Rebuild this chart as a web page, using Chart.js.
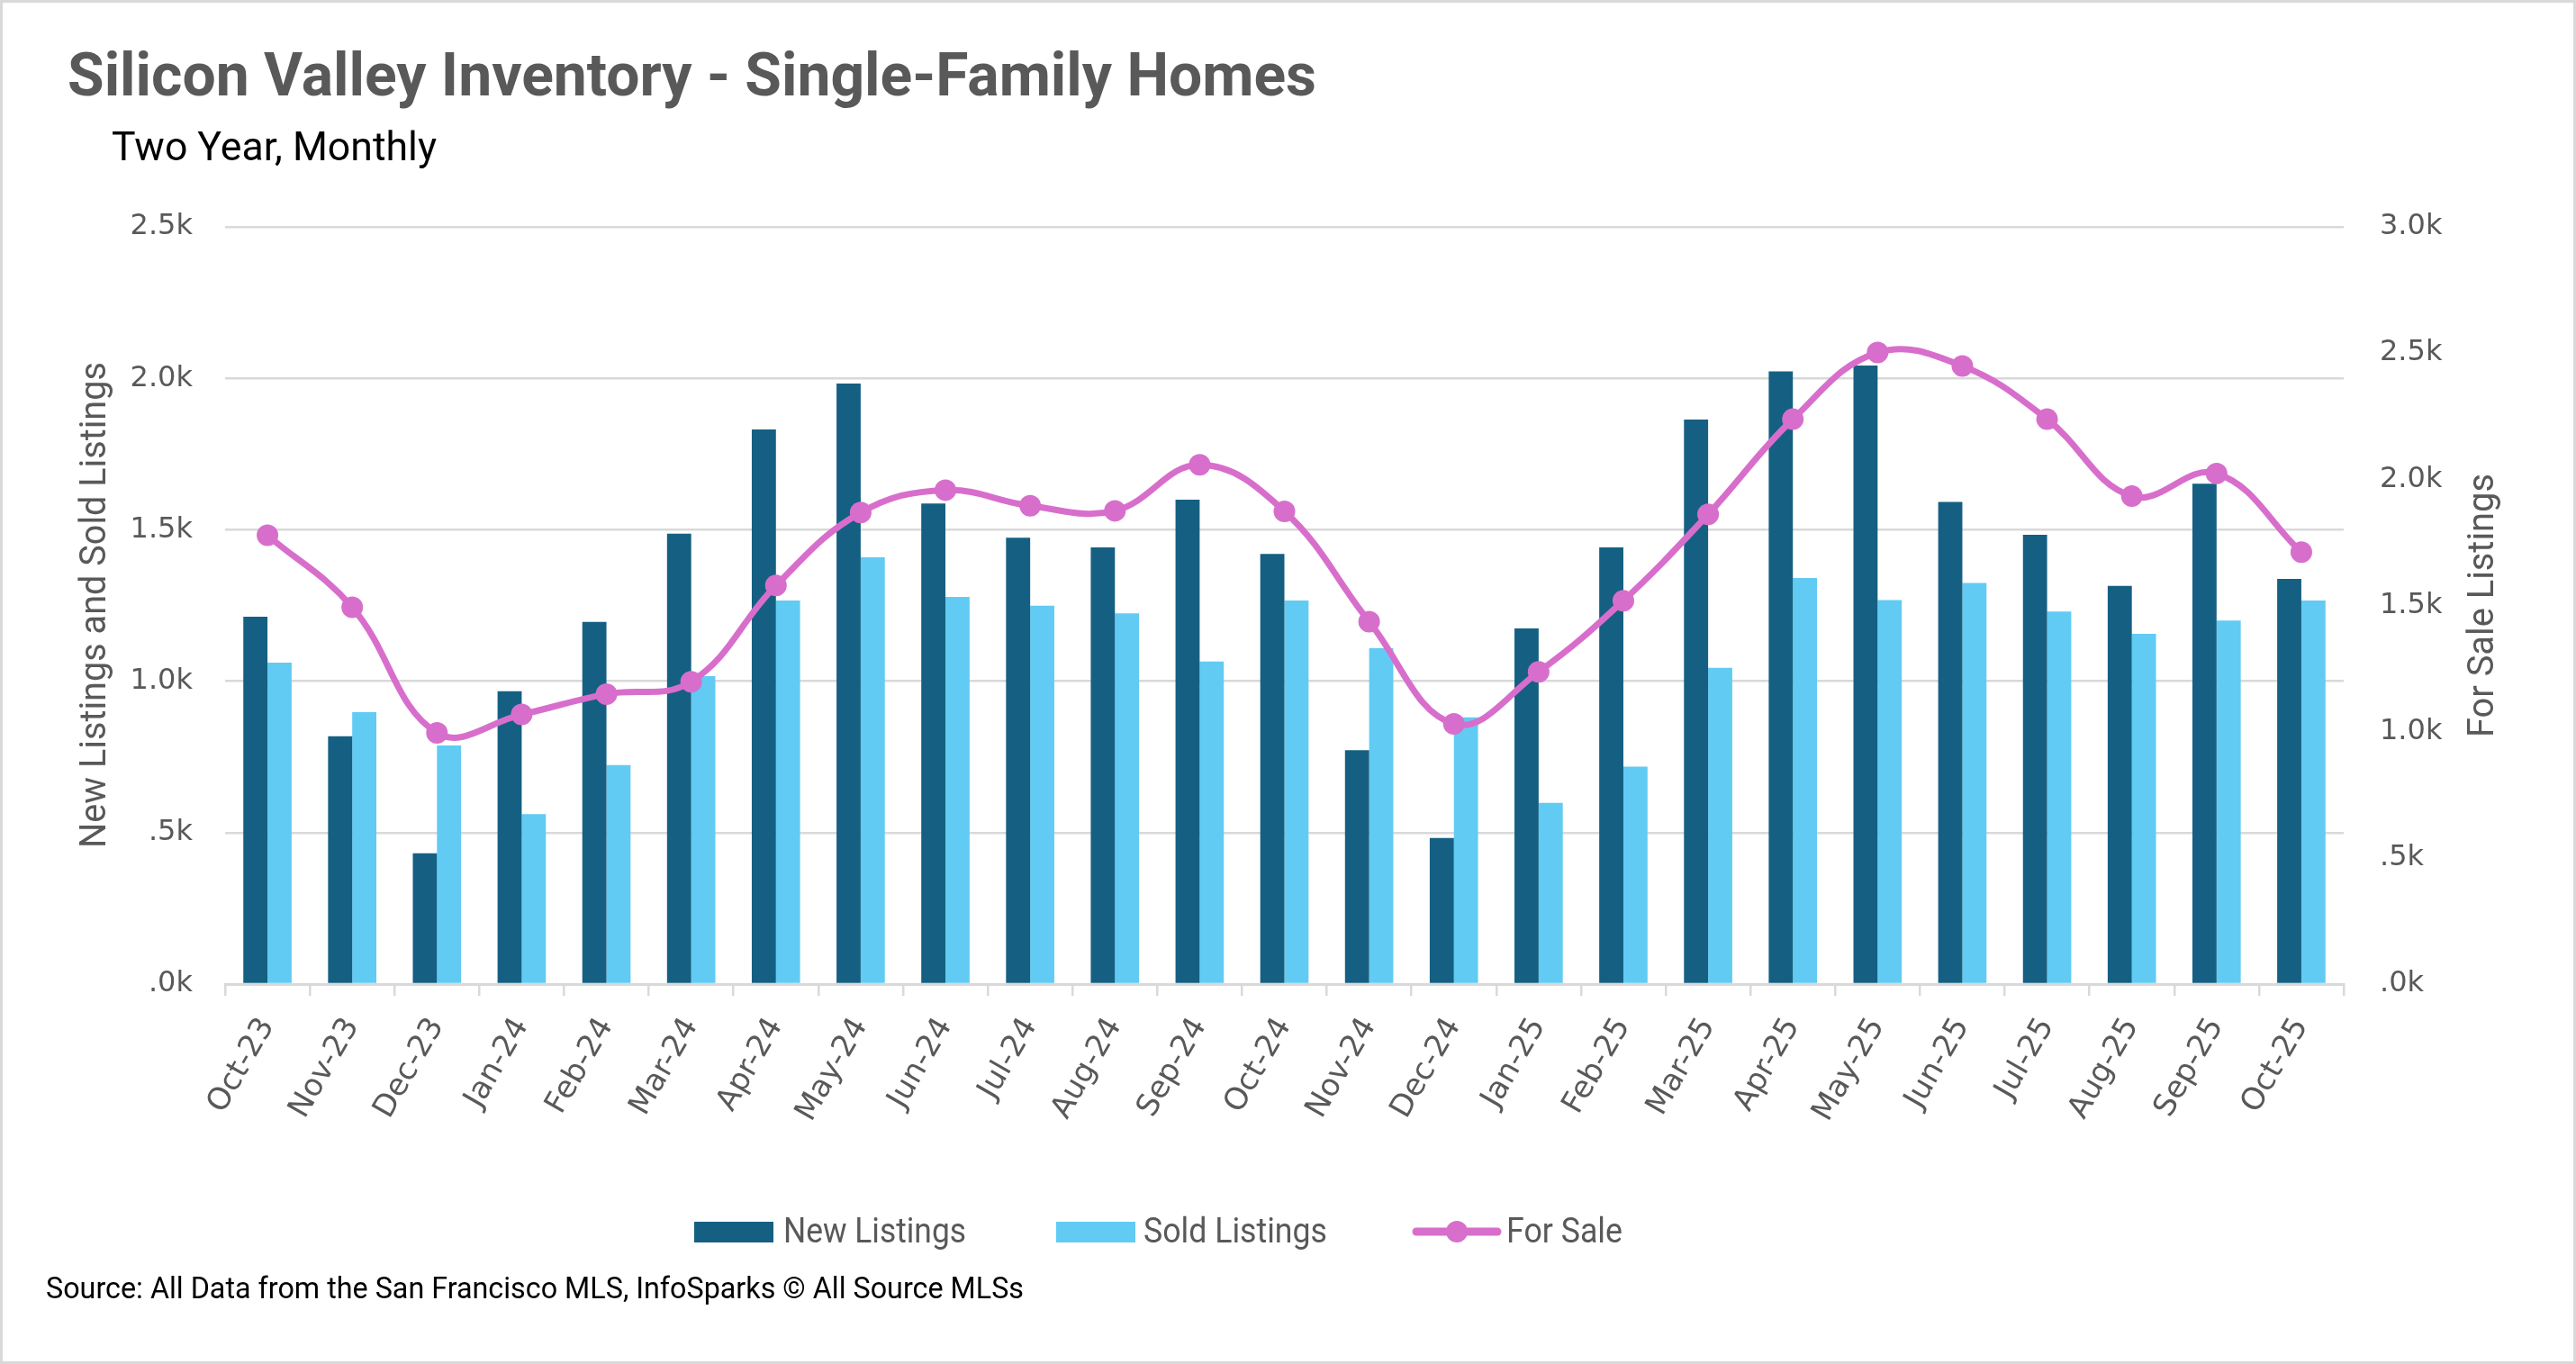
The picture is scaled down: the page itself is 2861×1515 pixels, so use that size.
<!DOCTYPE html>
<html>
<head>
<meta charset="utf-8">
<title>Silicon Valley Inventory - Single-Family Homes</title>
<script src="https://cdn.jsdelivr.net/npm/chart.js@4.4.1/dist/chart.umd.min.js"></script>
<style>
  html, body { margin: 0; padding: 0; background: #ffffff; }
  #wrap { width: 2861px; height: 1515px; position: relative; }
</style>
</head>
<body>
<div id="wrap"><canvas id="inventoryChart" width="2861" height="1515"></canvas></div>
<script>
  // Monthly values
  const months = ['Oct-23', 'Nov-23', 'Dec-23', 'Jan-24', 'Feb-24', 'Mar-24', 'Apr-24', 'May-24',
    'Jun-24', 'Jul-24', 'Aug-24', 'Sep-24', 'Oct-24', 'Nov-24', 'Dec-24', 'Jan-25', 'Feb-25',
    'Mar-25', 'Apr-25', 'May-25', 'Jun-25', 'Jul-25', 'Aug-25', 'Sep-25', 'Oct-25'];
  const newListings = [1213, 818, 432, 967, 1196, 1487, 1831, 1983, 1587, 1474, 1442, 1599, 1420,
    772, 482, 1174, 1442, 1864, 2023, 2042, 1592, 1483, 1315, 1652, 1338];
  const soldListings = [1061, 898, 788, 561, 723, 1017, 1266, 1409, 1278, 1249, 1224, 1065, 1266,
    1109, 881, 598, 718, 1044, 1341, 1268, 1324, 1230, 1156, 1200, 1266];
  const forSale = [1778, 1493, 995, 1068, 1149, 1198, 1579, 1868, 1957, 1895, 1875, 2057, 1873,
    1436, 1031, 1237, 1519, 1861, 2238, 2502, 2449, 2238, 1933, 2023, 1711];

  const leftTickLabels = ['.0k', '.5k', '1.0k', '1.5k', '2.0k', '2.5k'];
  const rightTickLabels = ['.0k', '.5k', '1.0k', '1.5k', '2.0k', '2.5k', '3.0k'];

  const COLORS = {
    NEW: '#156082',
    SOLD: '#61CBF3',
    FOR_SALE: '#D86ECC',
    GRID: '#D9D9D9',
    TEXT: '#595959'
  };
  const TEXT_FONT = 'Roboto, "Liberation Sans", sans-serif';
  const TICK_FONT = '"DejaVu Sans", Verdana, sans-serif';

  // Draws text squeezed/stretched to a given width (the original uses Aptos)
  function fitText(ctx, text, x, y, width, font, color, angle) {
    ctx.save();
    ctx.font = font;
    ctx.fillStyle = color;
    ctx.textAlign = 'left';
    ctx.textBaseline = 'alphabetic';
    const w = ctx.measureText(text).width;
    ctx.translate(x, y);
    if (angle) ctx.rotate(angle);
    ctx.scale(width / w, 1);
    ctx.fillText(text, 0, 0);
    ctx.restore();
  }

  const decorations = {
    id: 'decorations',
    afterDraw(chart) {
      const ctx = chart.ctx;
      const ds = chart.data.datasets;

      // outer frame
      ctx.save();
      ctx.strokeStyle = COLORS.GRID;
      ctx.lineWidth = 3;
      ctx.strokeRect(1.5, 1.5, chart.width - 3, chart.height - 3);
      ctx.restore();

      fitText(ctx, 'Silicon Valley Inventory - Single-Family Homes', 75, 106, 1387,
        'bold 67px ' + TEXT_FONT, COLORS.TEXT);
      fitText(ctx, 'Two Year, Monthly', 124, 178, 361, '45px ' + TEXT_FONT, '#000000');

      // axis titles, both reading bottom to top
      fitText(ctx, 'New Listings and Sold Listings', 117, 942, 540,
        '40px ' + TEXT_FONT, COLORS.TEXT, -Math.PI / 2);
      fitText(ctx, 'For Sale Listings', 2769, 819, 293,
        '41px ' + TEXT_FONT, COLORS.TEXT, -Math.PI / 2);

      // legend
      ctx.save();
      ctx.fillStyle = ds[0].backgroundColor;
      ctx.fillRect(771, 1357, 88, 23);
      ctx.fillStyle = ds[1].backgroundColor;
      ctx.fillRect(1173, 1357, 88, 23);
      ctx.strokeStyle = ds[2].borderColor;
      ctx.lineWidth = 9;
      ctx.lineCap = 'round';
      ctx.beginPath();
      ctx.moveTo(1573, 1368);
      ctx.lineTo(1663, 1368);
      ctx.stroke();
      ctx.fillStyle = ds[2].borderColor;
      ctx.beginPath();
      ctx.arc(1618, 1368, 12, 0, Math.PI * 2);
      ctx.fill();
      ctx.restore();
      fitText(ctx, ds[0].label, 870, 1380, 203, '38px ' + TEXT_FONT, COLORS.TEXT);
      fitText(ctx, ds[1].label, 1270, 1380, 204, '38px ' + TEXT_FONT, COLORS.TEXT);
      fitText(ctx, ds[2].label, 1673, 1380, 129, '38px ' + TEXT_FONT, COLORS.TEXT);

      fitText(ctx, 'Source: All Data from the San Francisco MLS, InfoSparks \u00A9 All Source MLSs',
        51, 1442, 1086, '33px ' + TEXT_FONT, '#000000');
    }
  };

  new Chart(document.getElementById('inventoryChart').getContext('2d'), {
    type: 'bar',
    data: {
      labels: months,
      datasets: [
        {
          label: 'New Listings',
          data: newListings,
          backgroundColor: COLORS.NEW,
          yAxisID: 'y',
          order: 1
        },
        {
          label: 'Sold Listings',
          data: soldListings,
          backgroundColor: COLORS.SOLD,
          yAxisID: 'y',
          order: 1
        },
        {
          type: 'line',
          label: 'For Sale',
          data: forSale,
          borderColor: COLORS.FOR_SALE,
          backgroundColor: COLORS.FOR_SALE,
          borderWidth: 7,
          tension: 0.4,
          pointRadius: 12,
          pointBorderWidth: 0,
          pointBackgroundColor: COLORS.FOR_SALE,
          yAxisID: 'y1',
          order: 0
        }
      ]
    },
    options: {
      responsive: false,
      animation: false,
      devicePixelRatio: 1,
      datasets: {
        bar: { barPercentage: 1.0, categoryPercentage: 0.57 }
      },
      layout: { padding: { top: 252, left: 0, right: 0, bottom: 0 } },
      plugins: {
        legend: { display: false },
        title: { display: false },
        tooltip: { enabled: false }
      },
      scales: {
        x: {
          offset: true,
          afterFit: function(scale) { scale.height = 422; },
          grid: {
            offset: true,
            drawOnChartArea: false,
            color: COLORS.GRID,
            lineWidth: 2.5,
            tickLength: 13
          },
          border: { display: true, color: COLORS.GRID, width: 3 },
          ticks: {
            autoSkip: false,
            minRotation: 60,
            maxRotation: 60,
            padding: 18,
            color: COLORS.TEXT,
            font: { family: TICK_FONT, size: 34 }
          }
        },
        y: {
          position: 'left',
          min: 0,
          max: 2500,
          afterFit: function(scale) { scale.width = 250; },
          grid: { color: COLORS.GRID, lineWidth: 2.5, drawTicks: false },
          border: { display: false },
          ticks: {
            stepSize: 500,
            padding: 36,
            color: COLORS.TEXT,
            font: { family: TICK_FONT, size: 32 },
            callback: function(value, index) { return leftTickLabels[index]; }
          }
        },
        y1: {
          position: 'right',
          min: 0,
          max: 3000,
          afterFit: function(scale) { scale.width = 258; },
          grid: { drawOnChartArea: false, drawTicks: false },
          border: { display: false },
          ticks: {
            stepSize: 500,
            padding: 40,
            color: COLORS.TEXT,
            font: { family: TICK_FONT, size: 32 },
            callback: function(value, index) { return rightTickLabels[index]; }
          }
        }
      }
    },
    plugins: [decorations]
  });
</script>
</body>
</html>
